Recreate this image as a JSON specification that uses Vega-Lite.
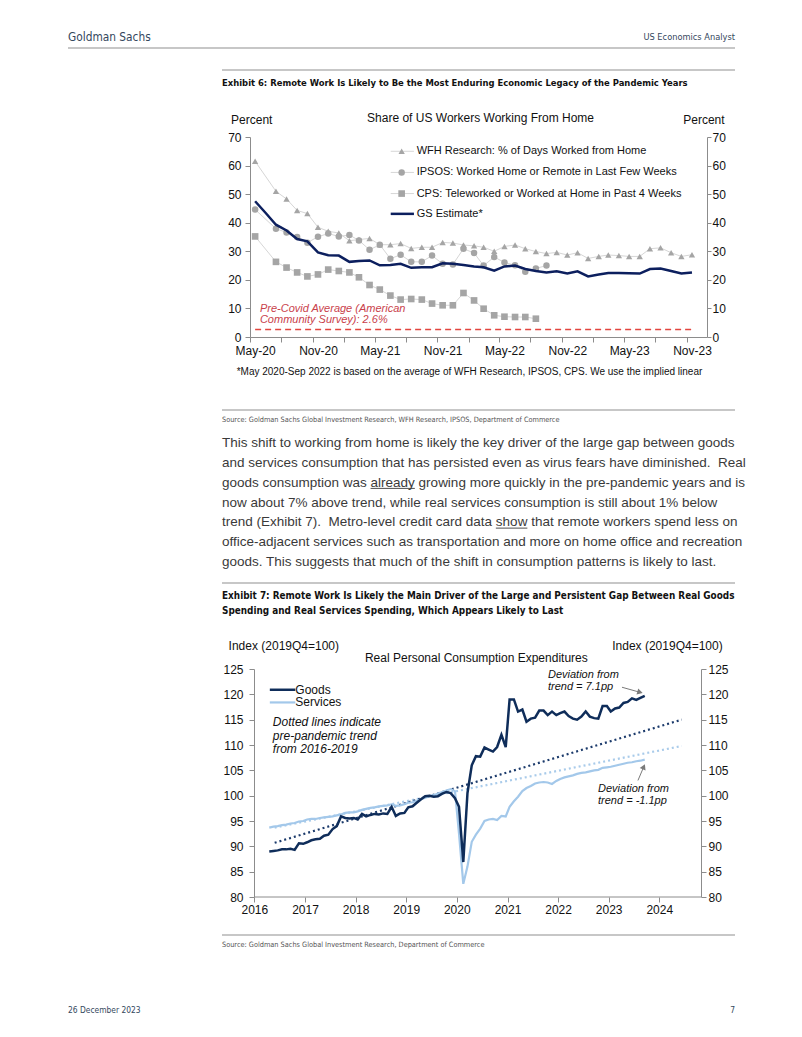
{
"$schema": "https://vega.github.io/schema/vega-lite/v6.json",
"background": "white",
"padding": 0,
"spacing": 0,
"bounds": "flush",
"align": "none",
"columns": 2,
"config": {
  "view": {"stroke": null},
  "font": "Liberation Sans",
  "text": {"font": "Liberation Sans"},
  "axis": {"labelFont": "Liberation Sans", "titleFont": "Liberation Sans", "grid": false}
},
"datasets": {
  "wfh": [
    {"date":"2020/05/01","value":61.5},{"date":"2020/07/01","value":51.0},{"date":"2020/08/01","value":48.3},{"date":"2020/09/01","value":44.3},{"date":"2020/10/01","value":43.2},{"date":"2020/11/01","value":38.4},{"date":"2020/12/01","value":37.0},
    {"date":"2021/01/01","value":36.4},{"date":"2021/02/01","value":33.7},{"date":"2021/03/01","value":34.1},{"date":"2021/04/01","value":34.5},{"date":"2021/05/01","value":32.3},{"date":"2021/06/01","value":32.3},{"date":"2021/07/01","value":32.7},{"date":"2021/08/01","value":31.0},{"date":"2021/09/01","value":31.4},{"date":"2021/10/01","value":31.4},{"date":"2021/11/01","value":33.1},{"date":"2021/12/01","value":32.9},
    {"date":"2022/01/01","value":32.2},{"date":"2022/02/01","value":31.9},{"date":"2022/03/01","value":31.4},{"date":"2022/04/01","value":30.0},{"date":"2022/05/01","value":31.7},{"date":"2022/06/01","value":32.2},{"date":"2022/07/01","value":30.9},{"date":"2022/08/01","value":29.9},{"date":"2022/09/01","value":29.2},{"date":"2022/10/01","value":29.6},{"date":"2022/11/01","value":28.7},{"date":"2022/12/01","value":29.5},
    {"date":"2023/01/01","value":27.5},{"date":"2023/02/01","value":28.2},{"date":"2023/03/01","value":28.7},{"date":"2023/04/01","value":28.5},{"date":"2023/05/01","value":28.2},{"date":"2023/06/01","value":28.2},{"date":"2023/07/01","value":30.9},{"date":"2023/08/01","value":31.2},{"date":"2023/09/01","value":29.5},{"date":"2023/10/01","value":28.2},{"date":"2023/11/01","value":28.8}
  ],
  "ipsos": [
    {"date":"2020/05/01","value":44.6},{"date":"2020/07/01","value":37.9},{"date":"2020/08/01","value":36.6},{"date":"2020/09/01","value":35.0},{"date":"2020/10/01","value":33.0},{"date":"2020/11/01","value":35.1},{"date":"2020/12/01","value":36.2},
    {"date":"2021/01/01","value":35.2},{"date":"2021/02/01","value":35.7},{"date":"2021/03/01","value":33.8},{"date":"2021/04/01","value":30.5},{"date":"2021/05/01","value":32.3},{"date":"2021/06/01","value":27.4},{"date":"2021/07/01","value":28.8},{"date":"2021/08/01","value":26.3},{"date":"2021/09/01","value":26.3},{"date":"2021/10/01","value":28.5},{"date":"2021/11/01","value":25.6},{"date":"2021/12/01","value":25.4},
    {"date":"2022/01/01","value":30.9},{"date":"2022/02/01","value":29.4},{"date":"2022/03/01","value":25.0},{"date":"2022/04/01","value":28.0},{"date":"2022/05/01","value":26.1},{"date":"2022/06/01","value":25.1},{"date":"2022/07/01","value":22.8},{"date":"2022/08/01","value":24.0},{"date":"2022/09/01","value":25.0}
  ],
  "cps": [
    {"date":"2020/05/01","value":35.2},{"date":"2020/07/01","value":26.3},{"date":"2020/08/01","value":24.3},{"date":"2020/09/01","value":22.6},{"date":"2020/10/01","value":21.2},{"date":"2020/11/01","value":21.9},{"date":"2020/12/01","value":23.6},
    {"date":"2021/01/01","value":23.1},{"date":"2021/02/01","value":22.6},{"date":"2021/03/01","value":20.9},{"date":"2021/04/01","value":18.2},{"date":"2021/05/01","value":16.6},{"date":"2021/06/01","value":14.5},{"date":"2021/07/01","value":13.1},{"date":"2021/08/01","value":13.3},{"date":"2021/09/01","value":13.1},{"date":"2021/10/01","value":11.7},{"date":"2021/11/01","value":11.1},{"date":"2021/12/01","value":11.1},
    {"date":"2022/01/01","value":15.4},{"date":"2022/02/01","value":12.8},{"date":"2022/03/01","value":9.9},{"date":"2022/04/01","value":7.6},{"date":"2022/05/01","value":7.1},{"date":"2022/06/01","value":7.0},{"date":"2022/07/01","value":7.0},{"date":"2022/08/01","value":6.4}
  ],
  "gs": [
    {"date":"2020/05/01","value":47.5},{"date":"2020/06/01","value":43.4},{"date":"2020/07/01","value":39.3},{"date":"2020/08/01","value":37.3},{"date":"2020/09/01","value":34.3},{"date":"2020/10/01","value":33.5},{"date":"2020/11/01","value":29.6},{"date":"2020/12/01","value":28.6},
    {"date":"2021/01/01","value":28.5},{"date":"2021/02/01","value":26.3},{"date":"2021/03/01","value":26.6},{"date":"2021/04/01","value":26.8},{"date":"2021/05/01","value":25.1},{"date":"2021/06/01","value":25.2},{"date":"2021/07/01","value":25.6},{"date":"2021/08/01","value":24.2},{"date":"2021/09/01","value":24.4},{"date":"2021/10/01","value":24.4},{"date":"2021/11/01","value":25.8},{"date":"2021/12/01","value":25.6},
    {"date":"2022/01/01","value":25.2},{"date":"2022/02/01","value":24.7},{"date":"2022/03/01","value":24.4},{"date":"2022/04/01","value":23.2},{"date":"2022/05/01","value":24.7},{"date":"2022/06/01","value":25.0},{"date":"2022/07/01","value":23.8},{"date":"2022/08/01","value":23.1},{"date":"2022/09/01","value":22.6},{"date":"2022/10/01","value":23.0},{"date":"2022/11/01","value":22.2},{"date":"2022/12/01","value":23.0},
    {"date":"2023/01/01","value":21.2},{"date":"2023/02/01","value":21.9},{"date":"2023/03/01","value":22.4},{"date":"2023/04/01","value":22.4},{"date":"2023/05/01","value":22.3},{"date":"2023/06/01","value":22.2},{"date":"2023/07/01","value":23.8},{"date":"2023/08/01","value":24.0},{"date":"2023/09/01","value":23.1},{"date":"2023/10/01","value":22.2},{"date":"2023/11/01","value":22.6}
  ],
  "goods": [
    {"date":"2016/06/01","value":89.0},{"date":"2016/07/01","value":89.1},{"date":"2016/08/01","value":89.2},{"date":"2016/09/01","value":89.4},{"date":"2016/10/01","value":89.4},{"date":"2016/11/01","value":89.5},{"date":"2016/12/01","value":89.3},
    {"date":"2017/01/01","value":90.6},{"date":"2017/02/01","value":90.5},{"date":"2017/03/01","value":90.8},{"date":"2017/04/01","value":91.2},{"date":"2017/05/01","value":91.4},{"date":"2017/06/01","value":91.5},{"date":"2017/07/01","value":92.1},{"date":"2017/08/01","value":92.3},{"date":"2017/09/01","value":93.4},{"date":"2017/10/01","value":94.0},{"date":"2017/11/01","value":95.9},{"date":"2017/12/01","value":95.6},
    {"date":"2018/01/01","value":95.5},{"date":"2018/02/01","value":95.6},{"date":"2018/03/01","value":95.3},{"date":"2018/04/01","value":96.4},{"date":"2018/05/01","value":95.9},{"date":"2018/06/01","value":96.2},{"date":"2018/07/01","value":96.4},{"date":"2018/08/01","value":96.3},{"date":"2018/09/01","value":96.5},{"date":"2018/10/01","value":96.4},{"date":"2018/11/01","value":97.8},{"date":"2018/12/01","value":96.0},
    {"date":"2019/01/01","value":96.5},{"date":"2019/02/01","value":96.6},{"date":"2019/03/01","value":97.7},{"date":"2019/04/01","value":97.9},{"date":"2019/05/01","value":98.6},{"date":"2019/06/01","value":99.3},{"date":"2019/07/01","value":99.9},{"date":"2019/08/01","value":100.0},{"date":"2019/09/01","value":99.8},{"date":"2019/10/01","value":99.9},{"date":"2019/11/01","value":100.4},{"date":"2019/12/01","value":100.7},
    {"date":"2020/01/01","value":100.5},{"date":"2020/02/01","value":99.5},{"date":"2020/03/01","value":97.8},{"date":"2020/04/01","value":86.9},{"date":"2020/05/01","value":100.5},{"date":"2020/06/01","value":106.0},{"date":"2020/07/01","value":107.8},{"date":"2020/08/01","value":107.7},{"date":"2020/09/01","value":109.5},{"date":"2020/10/01","value":109.1},{"date":"2020/11/01","value":108.7},{"date":"2020/12/01","value":109.6},
    {"date":"2021/01/01","value":112.0},{"date":"2021/02/01","value":109.6},{"date":"2021/03/01","value":119.0},{"date":"2021/04/01","value":119.0},{"date":"2021/05/01","value":116.6},{"date":"2021/06/01","value":117.0},{"date":"2021/07/01","value":114.6},{"date":"2021/08/01","value":115.2},{"date":"2021/09/01","value":115.4},{"date":"2021/10/01","value":116.8},{"date":"2021/11/01","value":116.8},{"date":"2021/12/01","value":115.9},
    {"date":"2022/01/01","value":116.6},{"date":"2022/02/01","value":115.9},{"date":"2022/03/01","value":116.3},{"date":"2022/04/01","value":116.6},{"date":"2022/05/01","value":115.7},{"date":"2022/06/01","value":115.2},{"date":"2022/07/01","value":115.0},{"date":"2022/08/01","value":115.6},{"date":"2022/09/01","value":116.6},{"date":"2022/10/01","value":115.6},{"date":"2022/11/01","value":115.3},{"date":"2022/12/01","value":115.2},
    {"date":"2023/01/01","value":117.7},{"date":"2023/02/01","value":117.7},{"date":"2023/03/01","value":116.6},{"date":"2023/04/01","value":117.2},{"date":"2023/05/01","value":117.4},{"date":"2023/06/01","value":118.3},{"date":"2023/07/01","value":118.5},{"date":"2023/08/01","value":119.2},{"date":"2023/09/01","value":118.9},{"date":"2023/10/01","value":119.3},{"date":"2023/11/01","value":119.7}
  ],
  "services": [
    {"date":"2016/06/01","value":93.7},{"date":"2016/07/01","value":93.9},{"date":"2016/08/01","value":94.0},{"date":"2016/09/01","value":94.2},{"date":"2016/10/01","value":94.3},{"date":"2016/11/01","value":94.5},{"date":"2016/12/01","value":94.6},
    {"date":"2017/01/01","value":94.9},{"date":"2017/02/01","value":95.0},{"date":"2017/03/01","value":95.3},{"date":"2017/04/01","value":95.4},{"date":"2017/05/01","value":95.4},{"date":"2017/06/01","value":95.6},{"date":"2017/07/01","value":95.7},{"date":"2017/08/01","value":95.8},{"date":"2017/09/01","value":95.9},{"date":"2017/10/01","value":96.1},{"date":"2017/11/01","value":96.3},{"date":"2017/12/01","value":96.6},
    {"date":"2018/01/01","value":96.7},{"date":"2018/02/01","value":96.7},{"date":"2018/03/01","value":96.9},{"date":"2018/04/01","value":97.2},{"date":"2018/05/01","value":97.4},{"date":"2018/06/01","value":97.6},{"date":"2018/07/01","value":97.7},{"date":"2018/08/01","value":97.9},{"date":"2018/09/01","value":98.0},{"date":"2018/10/01","value":98.1},{"date":"2018/11/01","value":98.3},{"date":"2018/12/01","value":98.0},
    {"date":"2019/01/01","value":98.1},{"date":"2019/02/01","value":98.3},{"date":"2019/03/01","value":98.6},{"date":"2019/04/01","value":98.7},{"date":"2019/05/01","value":99.0},{"date":"2019/06/01","value":99.3},{"date":"2019/07/01","value":99.6},{"date":"2019/08/01","value":99.9},{"date":"2019/09/01","value":100.1},{"date":"2019/10/01","value":100.4},{"date":"2019/11/01","value":100.7},{"date":"2019/12/01","value":101.0},
    {"date":"2020/01/01","value":101.3},{"date":"2020/02/01","value":100.9},{"date":"2020/03/01","value":92.5},{"date":"2020/04/01","value":82.6},{"date":"2020/05/01","value":86.0},{"date":"2020/06/01","value":90.9},{"date":"2020/07/01","value":92.3},{"date":"2020/08/01","value":93.5},{"date":"2020/09/01","value":95.0},{"date":"2020/10/01","value":95.3},{"date":"2020/11/01","value":95.4},{"date":"2020/12/01","value":95.2},
    {"date":"2021/01/01","value":96.0},{"date":"2021/02/01","value":95.9},{"date":"2021/03/01","value":97.8},{"date":"2021/04/01","value":98.9},{"date":"2021/05/01","value":99.8},{"date":"2021/06/01","value":100.9},{"date":"2021/07/01","value":101.5},{"date":"2021/08/01","value":101.9},{"date":"2021/09/01","value":102.4},{"date":"2021/10/01","value":102.6},{"date":"2021/11/01","value":102.7},{"date":"2021/12/01","value":102.6},
    {"date":"2022/01/01","value":102.3},{"date":"2022/02/01","value":102.9},{"date":"2022/03/01","value":103.3},{"date":"2022/04/01","value":103.6},{"date":"2022/05/01","value":103.8},{"date":"2022/06/01","value":104.0},{"date":"2022/07/01","value":104.3},{"date":"2022/08/01","value":104.5},{"date":"2022/09/01","value":104.6},{"date":"2022/10/01","value":104.8},{"date":"2022/11/01","value":105.0},{"date":"2022/12/01","value":105.1},
    {"date":"2023/01/01","value":105.5},{"date":"2023/02/01","value":105.6},{"date":"2023/03/01","value":105.7},{"date":"2023/04/01","value":105.9},{"date":"2023/05/01","value":106.1},{"date":"2023/06/01","value":106.3},{"date":"2023/07/01","value":106.5},{"date":"2023/08/01","value":106.6},{"date":"2023/09/01","value":106.8},{"date":"2023/10/01","value":106.9},{"date":"2023/11/01","value":107.1}
  ]
},
"concat": [
  {"width": 250, "height": 26, "data": {"values": []}, "mark": "point"},
  {"width": 1, "height": 26, "data": {"values": []}, "mark": "point"},

  {"width": 1, "height": 22, "data": {"values": []}, "mark": "point"},
  {"width": 485, "height": 22,
   "encoding": {"x": {"field": "col", "type": "quantitative", "scale": {"domain": [0.272864, 1]}, "axis": null}},
   "layer": [
     {"data": {"values": [{"col": 0, "col2": 1}]}, "mark": {"type": "rule", "color": "#b4b4b4", "strokeWidth": 1.5},
      "encoding": {"x2": {"field": "col2"}, "y": {"datum": 0, "type": "quantitative", "scale": {"domain": [0, 1]}, "axis": null}}},
     {"data": {"values": [{"col": 0, "text": "Goldman Sachs"}]}, "mark": {"type": "text", "align": "left", "baseline": "middle", "font": "DejaVu Sans Condensed, Liberation Sans Narrow, Roboto, sans-serif", "fontSize": 11.8, "color": "#34475d"}, "encoding": {"text": {"field": "text"}}},
     {"data": {"values": [{"col": 1, "text": "US Economics Analyst"}]}, "mark": {"type": "text", "align": "right", "baseline": "middle", "font": "DejaVu Sans Condensed, Liberation Sans Narrow, Roboto, sans-serif", "fontSize": 9.2, "color": "#34475d"}, "encoding": {"text": {"field": "text"}}}
   ]},

  {"width": 1, "height": 22, "data": {"values": []}, "mark": "point"},
  {"width": 1, "height": 22, "data": {"values": []}, "mark": "point"},

  {"width": 1, "height": 26, "data": {"values": []}, "mark": "point"},
  {"width": 485, "height": 26,
   "encoding": {"x": {"field": "col", "type": "quantitative", "scale": {"domain": [0.272864, 1]}, "axis": null}},
   "layer": [
     {"data": {"values": [{"col": 0.230885, "col2": 1}]}, "mark": {"type": "rule", "color": "#b4b4b4", "strokeWidth": 1.5},
      "encoding": {"x2": {"field": "col2"}, "y": {"datum": 1, "type": "quantitative", "scale": {"domain": [0, 1]}, "axis": null}}},
     {"data": {"values": [{"col": 0.230885, "text": "Exhibit 6: Remote Work Is Likely to Be the Most Enduring Economic Legacy of the Pandemic Years"}]},
      "mark": {"type": "text", "align": "left", "baseline": "middle", "font": "DejaVu Sans Condensed, Liberation Sans Narrow, Roboto, sans-serif", "fontWeight": "bold", "fontSize": 9.4, "color": "#111111"}, "encoding": {"text": {"field": "text"}}}
   ]},

  {"width": 1, "height": 41, "data": {"values": []}, "mark": "point"},
  {"width": 1, "height": 41, "data": {"values": []}, "mark": "point"},

  {"width": 1, "height": 200, "data": {"values": []}, "mark": "point"},
  {"width": 457, "height": 200,
   "encoding": {
     "x": {"field": "date", "type": "temporal", "scale": {"domain": [{"year": 2020, "month": 4, "date": 16}, {"year": 2023, "month": 12, "date": 15}]}, "axis": null},
     "y": {"field": "value", "type": "quantitative", "scale": {"domain": [0, 70], "nice": false}, "axis": null}
   },
   "layer": [
     {"data": {"values": [{"date": "2020/05/01", "date2": "2023/11/01", "value": 2.6}]},
      "mark": {"type": "rule", "color": "#e2463f", "strokeDash": [6, 4], "strokeWidth": 1.5},
      "encoding": {
        "x": {"field": "date", "type": "temporal", "scale": {"domain": [{"year": 2020, "month": 4, "date": 16}, {"year": 2023, "month": 12, "date": 15}]},
              "axis": {"orient": "bottom", "values": [{"year": 2020, "month": 5, "date": 1}, {"year": 2020, "month": 11, "date": 1}, {"year": 2021, "month": 5, "date": 1}, {"year": 2021, "month": 11, "date": 1}, {"year": 2022, "month": 5, "date": 1}, {"year": 2022, "month": 11, "date": 1}, {"year": 2023, "month": 5, "date": 1}, {"year": 2023, "month": 11, "date": 1}],
                       "format": "%b-%y", "ticks": false, "domain": true, "domainColor": "#8c8c8c", "labelPadding": 8, "labelFontSize": 12, "labelColor": "#111111", "labelOverlap": false, "labelFlush": false, "title": null}},
        "x2": {"field": "date2"},
        "y": {"field": "value", "type": "quantitative", "scale": {"domain": [0, 70], "nice": false},
              "axis": {"orient": "left", "values": [0, 10, 20, 30, 40, 50, 60, 70], "tickSize": 5, "tickColor": "#8c8c8c", "domainColor": "#8c8c8c", "labelPadding": 4, "labelFontSize": 12, "labelColor": "#111111", "title": null}}
      }},
     {"data": {"name": "wfh"}, "mark": {"type": "line", "color": "#d6d6d6", "strokeWidth": 1}, "encoding": {}},
     {"data": {"name": "ipsos"}, "mark": {"type": "line", "color": "#d6d6d6", "strokeWidth": 1}, "encoding": {}},
     {"data": {"name": "cps"}, "mark": {"type": "line", "color": "#d6d6d6", "strokeWidth": 1}, "encoding": {}},
     {"data": {"name": "wfh"}, "mark": {"type": "point", "shape": "triangle-up", "filled": true, "color": "#a5a5a5", "opacity": 1, "size": 40}},
     {"data": {"name": "ipsos"}, "mark": {"type": "point", "shape": "circle", "filled": true, "color": "#a5a5a5", "opacity": 1, "size": 42}},
     {"data": {"name": "cps"}, "mark": {"type": "point", "shape": "square", "filled": true, "color": "#a5a5a5", "opacity": 1, "size": 44}},
     {"data": {"name": "gs"}, "mark": {"type": "line", "color": "#0c1f5e", "strokeWidth": 2.5},
      "encoding": {
        "x": {"field": "date", "type": "temporal", "scale": {"domain": [{"year": 2020, "month": 4, "date": 16}, {"year": 2023, "month": 12, "date": 15}]},
              "axis": {"orient": "bottom", "values": [{"year": 2020, "month": 4, "date": 16}, {"year": 2020, "month": 7, "date": 16}, {"year": 2020, "month": 10, "date": 16}, {"year": 2021, "month": 1, "date": 16}, {"year": 2021, "month": 4, "date": 16}, {"year": 2021, "month": 7, "date": 16}, {"year": 2021, "month": 10, "date": 16}, {"year": 2022, "month": 1, "date": 16}, {"year": 2022, "month": 4, "date": 16}, {"year": 2022, "month": 7, "date": 16}, {"year": 2022, "month": 10, "date": 16}, {"year": 2023, "month": 1, "date": 16}, {"year": 2023, "month": 4, "date": 16}, {"year": 2023, "month": 7, "date": 16}, {"year": 2023, "month": 10, "date": 16}],
                       "labels": false, "ticks": true, "tickSize": 5, "tickColor": "#8c8c8c", "domain": false, "title": null}},
        "y": {"field": "value", "type": "quantitative", "scale": {"domain": [0, 70], "nice": false},
              "axis": {"orient": "right", "values": [0, 10, 20, 30, 40, 50, 60, 70], "tickSize": 4, "tickColor": "#8c8c8c", "domainColor": "#8c8c8c", "labelPadding": 1, "labelFontSize": 12, "labelColor": "#111111", "title": null}}
      }},
     {"data": {"values": [{"date": "2021/06/02", "date2": "2021/08/09", "value": 65.0}, {"date": "2021/06/02", "date2": "2021/08/09", "value": 57.6}, {"date": "2021/06/02", "date2": "2021/08/09", "value": 50.2}]},
      "mark": {"type": "rule", "color": "#d6d6d6", "strokeWidth": 1}, "encoding": {"x2": {"field": "date2"}}},
     {"data": {"values": [{"date": "2021/06/02", "date2": "2021/08/09", "value": 43.1}]},
      "mark": {"type": "rule", "color": "#0c1f5e", "strokeWidth": 2.5}, "encoding": {"x2": {"field": "date2"}}},
     {"data": {"values": [{"date": "2021/07/04", "value": 65.0}]}, "mark": {"type": "point", "shape": "triangle-up", "filled": true, "color": "#a5a5a5", "opacity": 1, "size": 40}},
     {"data": {"values": [{"date": "2021/07/04", "value": 57.6}]}, "mark": {"type": "point", "shape": "circle", "filled": true, "color": "#a5a5a5", "opacity": 1, "size": 42}},
     {"data": {"values": [{"date": "2021/07/04", "value": 50.2}]}, "mark": {"type": "point", "shape": "square", "filled": true, "color": "#a5a5a5", "opacity": 1, "size": 44}},
     {"data": {"values": [
        {"date": "2021/08/17", "value": 65.0, "text": "WFH Research: % of Days Worked from Home"},
        {"date": "2021/08/17", "value": 57.6, "text": "IPSOS: Worked Home or Remote in Last Few Weeks"},
        {"date": "2021/08/17", "value": 50.2, "text": "CPS: Teleworked or Worked at Home in Past 4 Weeks"},
        {"date": "2021/08/17", "value": 43.1, "text": "GS Estimate*"}]},
      "mark": {"type": "text", "align": "left", "baseline": "middle", "fontSize": 11, "color": "#111111"}, "encoding": {"text": {"field": "text"}}},
     {"data": {"values": [
        {"date": "2020/04/21", "value": 76.1, "text": "Percent"},
        {"date": "2022/02/20", "value": 76.7, "text": "Share of US Workers Working From Home"},
        {"date": "2023/12/06", "value": 76.1, "text": "Percent"}]},
      "mark": {"type": "text", "align": "center", "baseline": "middle", "fontSize": 12, "color": "#111111"}, "encoding": {"text": {"field": "text"}}},
     {"data": {"values": [
        {"date": "2020/05/15", "value": 9.9, "text": "Pre-Covid Average (American"},
        {"date": "2020/05/15", "value": 5.8, "text": "Community Survey): 2.6%"}]},
      "mark": {"type": "text", "align": "left", "baseline": "middle", "fontSize": 11, "fontStyle": "italic", "color": "#c9414b"}, "encoding": {"text": {"field": "text"}}},
     {"data": {"values": [{"date": "2020/03/08", "value": -12.1, "text": "*May 2020-Sep 2022 is based on the average of WFH Research, IPSOS, CPS. We use the implied linear"}]},
      "mark": {"type": "text", "align": "left", "baseline": "middle", "fontSize": 10, "color": "#111111"}, "encoding": {"text": {"field": "text"}}}
   ],
   "resolve": {"axis": {"x": "independent", "y": "independent"}}},

  {"width": 1, "height": 73, "data": {"values": []}, "mark": "point"},
  {"width": 1, "height": 73, "data": {"values": []}, "mark": "point"},

  {"width": 1, "height": 20, "data": {"values": []}, "mark": "point"},
  {"width": 485, "height": 20,
   "encoding": {"x": {"field": "col", "type": "quantitative", "scale": {"domain": [0.272864, 1]}, "axis": null}},
   "layer": [
     {"data": {"values": [{"col": 0.230885, "col2": 1}]}, "mark": {"type": "rule", "color": "#b4b4b4", "strokeWidth": 1.5},
      "encoding": {"x2": {"field": "col2"}, "y": {"datum": 1, "type": "quantitative", "scale": {"domain": [0, 1]}, "axis": null}}},
     {"data": {"values": [{"col": 0.230885, "text": "Source: Goldman Sachs Global Investment Research, WFH Research, IPSOS, Department of Commerce"}]},
      "mark": {"type": "text", "align": "left", "baseline": "middle", "font": "DejaVu Sans Condensed, Liberation Sans Narrow, Roboto, sans-serif", "fontSize": 7.3, "color": "#555555"}, "encoding": {"text": {"field": "text"}}}
   ]},

  {"width": 1, "height": 3, "data": {"values": []}, "mark": "point"},
  {"width": 1, "height": 3, "data": {"values": []}, "mark": "point"},

  {"width": 1, "height": 139, "data": {"values": []}, "mark": "point"},
  {"width": 485, "height": 139,
   "encoding": {"x": {"field": "col", "type": "quantitative", "scale": {"domain": [0.272864, 1]}, "axis": null}},
   "layer": [
     {"data": {"values": [
       {"col": 0.230885, "line": 1, "text": "This shift to working from home is likely the key driver of the large gap between goods"},
       {"col": 0.230885, "line": 2, "text": "and services consumption that has persisted even as virus fears have diminished.\u00a0 Real"},
       {"col": 0.230885, "line": 3, "text": "goods consumption was already growing more quickly in the pre-pandemic years and is"},
       {"col": 0.230885, "line": 4, "text": "now about 7% above trend, while real services consumption is still about 1% below"},
       {"col": 0.230885, "line": 5, "text": "trend (Exhibit 7).\u00a0 Metro-level credit card data show that remote workers spend less on"},
       {"col": 0.230885, "line": 6, "text": "office-adjacent services such as transportation and more on home office and recreation"},
       {"col": 0.230885, "line": 7, "text": "goods. This suggests that much of the shift in consumption patterns is likely to last."}]},
      "mark": {"type": "text", "align": "left", "baseline": "middle", "fontSize": 13.5, "color": "#3a3a3a"},
      "encoding": {
        "y": {"field": "line", "type": "ordinal", "scale": {"type": "point", "padding": 0.5}, "axis": null},
        "text": {"field": "text"}}},
     {"data": {"values": [{"col": 0.45363, "col2": 0.52, "line": 3.29}, {"col": 0.64145, "col2": 0.6887, "line": 5.29}]},
      "mark": {"type": "rule", "color": "#3a3a3a", "strokeWidth": 0.9},
      "encoding": {"x2": {"field": "col2"}, "y": {"field": "line", "type": "quantitative", "scale": {"domain": [7.5, 0.5]}, "axis": null}}}
   ],
   "resolve": {"scale": {"y": "independent"}}},

  {"width": 1, "height": 11, "data": {"values": []}, "mark": "point"},
  {"width": 1, "height": 11, "data": {"values": []}, "mark": "point"},

  {"width": 1, "height": 41, "data": {"values": []}, "mark": "point"},
  {"width": 485, "height": 41,
   "encoding": {"x": {"field": "col", "type": "quantitative", "scale": {"domain": [0.272864, 1]}, "axis": null}},
   "layer": [
     {"data": {"values": [{"col": 0.230885, "col2": 1}]}, "mark": {"type": "rule", "color": "#b4b4b4", "strokeWidth": 1.5},
      "encoding": {"x2": {"field": "col2"}, "y": {"datum": 1, "type": "quantitative", "scale": {"domain": [0, 1]}, "axis": null}}},
     {"data": {"values": [
       {"col": 0.230885, "line": 1, "text": "Exhibit 7: Remote Work Is Likely the Main Driver of the Large and Persistent Gap Between Real Goods"},
       {"col": 0.230885, "line": 2, "text": "Spending and Real Services Spending, Which Appears Likely to Last"}]},
      "mark": {"type": "text", "align": "left", "baseline": "middle", "font": "DejaVu Sans Condensed, Liberation Sans Narrow, Roboto, sans-serif", "fontWeight": "bold", "fontSize": 9.9, "color": "#111111"},
      "encoding": {
        "y": {"field": "line", "type": "ordinal", "scale": {"type": "point", "padding": 0.867}, "axis": null},
        "text": {"field": "text"}}}
   ],
   "resolve": {"scale": {"y": "independent"}}},

  {"width": 1, "height": 45, "data": {"values": []}, "mark": "point"},
  {"width": 1, "height": 45, "data": {"values": []}, "mark": "point"},

  {"width": 1, "height": 228, "data": {"values": []}, "mark": "point"},
  {"width": 451, "height": 228,
   "encoding": {
     "x": {"field": "date", "type": "temporal", "scale": {"domain": [{"year": 2016, "month": 1, "date": 14}, {"year": 2024, "month": 12, "date": 11}]}, "axis": null},
     "y": {"field": "value", "type": "quantitative", "scale": {"domain": [80, 125], "nice": false, "zero": false}, "axis": null}
   },
   "layer": [
     {"data": {"values": [{"date": "2016/02/14", "date2": "2024/12/11", "value": 80}]},
      "mark": {"type": "rule", "color": "#8c8c8c", "strokeWidth": 1},
      "encoding": {
        "x": {"field": "date", "type": "temporal", "scale": {"domain": [{"year": 2016, "month": 1, "date": 14}, {"year": 2024, "month": 12, "date": 11}]},
              "axis": {"orient": "bottom", "values": [{"year": 2016, "month": 2, "date": 14}, {"year": 2017, "month": 2, "date": 14}, {"year": 2018, "month": 2, "date": 14}, {"year": 2019, "month": 2, "date": 14}, {"year": 2020, "month": 2, "date": 14}, {"year": 2021, "month": 2, "date": 14}, {"year": 2022, "month": 2, "date": 14}, {"year": 2023, "month": 2, "date": 14}, {"year": 2024, "month": 2, "date": 14}],
                       "format": "%Y", "domain": false, "tickSize": 5, "tickColor": "#8c8c8c", "labelPadding": 2, "labelFontSize": 12, "labelColor": "#111111", "labelOverlap": false, "labelFlush": false, "title": null}},
        "x2": {"field": "date2"},
        "y": {"field": "value", "type": "quantitative", "scale": {"domain": [80, 125], "nice": false, "zero": false},
              "axis": {"orient": "left", "offset": -4, "values": [80, 85, 90, 95, 100, 105, 110, 115, 120, 125], "tickSize": 5, "tickColor": "#8c8c8c", "domainColor": "#8c8c8c", "labelPadding": 6, "labelFontSize": 12, "labelColor": "#111111", "title": null}}
      }},
     {"data": {"values": [{"date": "2016/07/10", "value": 93.7}, {"date": "2024/07/25", "value": 109.8}]},
      "mark": {"type": "line", "color": "#a9cbea", "strokeWidth": 2.2, "strokeDash": [2, 3]}, "encoding": {}},
     {"data": {"values": [{"date": "2016/07/10", "value": 90.7}, {"date": "2024/07/25", "value": 115.0}]},
      "mark": {"type": "line", "color": "#1b3a6b", "strokeWidth": 2.2, "strokeDash": [2, 3]}, "encoding": {}},
     {"data": {"name": "services"}, "mark": {"type": "line", "color": "#a3c8ea", "strokeWidth": 2.2},
      "encoding": {
        "y": {"field": "value", "type": "quantitative", "scale": {"domain": [80, 125], "nice": false, "zero": false},
              "axis": {"orient": "right", "values": [80, 85, 90, 95, 100, 105, 110, 115, 120, 125], "tickSize": 5, "tickColor": "#8c8c8c", "domainColor": "#8c8c8c", "labelPadding": 2, "labelFontSize": 12, "labelColor": "#111111", "title": null}}
      }},
     {"data": {"name": "goods"}, "mark": {"type": "line", "color": "#0f2d5a", "strokeWidth": 2.5}, "encoding": {}},
     {"data": {"values": [{"date": "2016/06/05", "date2": "2016/12/06", "value": 120.9}]},
      "mark": {"type": "rule", "color": "#0f2d5a", "strokeWidth": 2.5}, "encoding": {"x2": {"field": "date2"}}},
     {"data": {"values": [{"date": "2016/06/05", "date2": "2016/12/06", "value": 118.4}]},
      "mark": {"type": "rule", "color": "#a3c8ea", "strokeWidth": 2.2}, "encoding": {"x2": {"field": "date2"}}},
     {"data": {"values": [
        {"date": "2016/12/06", "value": 120.9, "text": "Goods"},
        {"date": "2016/12/06", "value": 118.4, "text": "Services"}]},
      "mark": {"type": "text", "align": "left", "baseline": "middle", "fontSize": 12, "color": "#111111"}, "encoding": {"text": {"field": "text"}}},
     {"data": {"values": [
        {"date": "2016/09/14", "value": 129.5, "text": "Index (2019Q4=100)"},
        {"date": "2024/04/13", "value": 129.5, "text": "Index (2019Q4=100)"},
        {"date": "2020/07/04", "value": 127.2, "text": "Real Personal Consumption Expenditures"}]},
      "mark": {"type": "text", "align": "center", "baseline": "middle", "fontSize": 12, "color": "#111111"}, "encoding": {"text": {"field": "text"}}},
     {"data": {"values": [
        {"date": "2016/06/27", "value": 114.5, "text": "Dotted lines indicate"},
        {"date": "2016/06/27", "value": 111.7, "text": "pre-pandemic trend"},
        {"date": "2016/06/27", "value": 109.15, "text": "from 2016-2019"}]},
      "mark": {"type": "text", "align": "left", "baseline": "middle", "fontSize": 12, "fontStyle": "italic", "color": "#111111"}, "encoding": {"text": {"field": "text"}}},
     {"data": {"values": [
        {"date": "2021/12/03", "value": 123.75, "text": "Deviation from"},
        {"date": "2021/12/03", "value": 121.4, "text": "trend = 7.1pp"},
        {"date": "2022/11/29", "value": 101.25, "text": "Deviation from"},
        {"date": "2022/11/29", "value": 98.9, "text": "trend = -1.1pp"}]},
      "mark": {"type": "text", "align": "left", "baseline": "middle", "fontSize": 11, "fontStyle": "italic", "color": "#111111"}, "encoding": {"text": {"field": "text"}}},
     {"data": {"values": [
        {"date": "2023/05/21", "value": 121.4, "arrow": "upper"}, {"date": "2023/09/28", "value": 120.4, "arrow": "upper"},
        {"date": "2023/09/13", "value": 103.0, "arrow": "lower"}, {"date": "2023/10/25", "value": 105.7, "arrow": "lower"}]},
      "mark": {"type": "line", "color": "#7a7a7a", "strokeWidth": 1}, "encoding": {"detail": {"field": "arrow"}}},
     {"data": {"values": [{"date": "2023/09/28", "value": 120.4}]},
      "mark": {"type": "point", "shape": "triangle-right", "angle": 16, "filled": true, "color": "#7a7a7a", "opacity": 1, "size": 40}},
     {"data": {"values": [{"date": "2023/10/25", "value": 105.7}]},
      "mark": {"type": "point", "shape": "triangle-up", "angle": 24, "filled": true, "color": "#7a7a7a", "opacity": 1, "size": 40}}
   ],
   "resolve": {"axis": {"x": "independent", "y": "independent"}}},

  {"width": 1, "height": 38, "data": {"values": []}, "mark": "point"},
  {"width": 1, "height": 38, "data": {"values": []}, "mark": "point"},

  {"width": 1, "height": 20, "data": {"values": []}, "mark": "point"},
  {"width": 485, "height": 20,
   "encoding": {"x": {"field": "col", "type": "quantitative", "scale": {"domain": [0.272864, 1]}, "axis": null}},
   "layer": [
     {"data": {"values": [{"col": 0.230885, "col2": 1}]}, "mark": {"type": "rule", "color": "#b4b4b4", "strokeWidth": 1.5},
      "encoding": {"x2": {"field": "col2"}, "y": {"datum": 1, "type": "quantitative", "scale": {"domain": [0, 1]}, "axis": null}}},
     {"data": {"values": [{"col": 0.230885, "text": "Source: Goldman Sachs Global Investment Research, Department of Commerce"}]},
      "mark": {"type": "text", "align": "left", "baseline": "middle", "font": "DejaVu Sans Condensed, Liberation Sans Narrow, Roboto, sans-serif", "fontSize": 7.3, "color": "#555555"}, "encoding": {"text": {"field": "text"}}}
   ]},

  {"width": 1, "height": 44, "data": {"values": []}, "mark": "point"},
  {"width": 1, "height": 44, "data": {"values": []}, "mark": "point"},

  {"width": 1, "height": 22, "data": {"values": []}, "mark": "point"},
  {"width": 485, "height": 22,
   "encoding": {"x": {"field": "col", "type": "quantitative", "scale": {"domain": [0.272864, 1]}, "axis": null}, "text": {"field": "text"}},
   "layer": [
     {"data": {"values": [{"col": 0, "text": "26 December 2023"}]}, "mark": {"type": "text", "align": "left", "baseline": "middle", "font": "DejaVu Sans Condensed, Liberation Sans Narrow, Roboto, sans-serif", "fontSize": 8.4, "color": "#34475d"}},
     {"data": {"values": [{"col": 1, "text": "7"}]}, "mark": {"type": "text", "align": "right", "baseline": "middle", "font": "DejaVu Sans Condensed, Liberation Sans Narrow, Roboto, sans-serif", "fontSize": 8.4, "color": "#34475d"}}
   ]},

  {"width": 1, "height": 16, "data": {"values": []}, "mark": "point"},
  {"width": 1, "height": 16, "data": {"values": []}, "mark": "point"}
]
}
